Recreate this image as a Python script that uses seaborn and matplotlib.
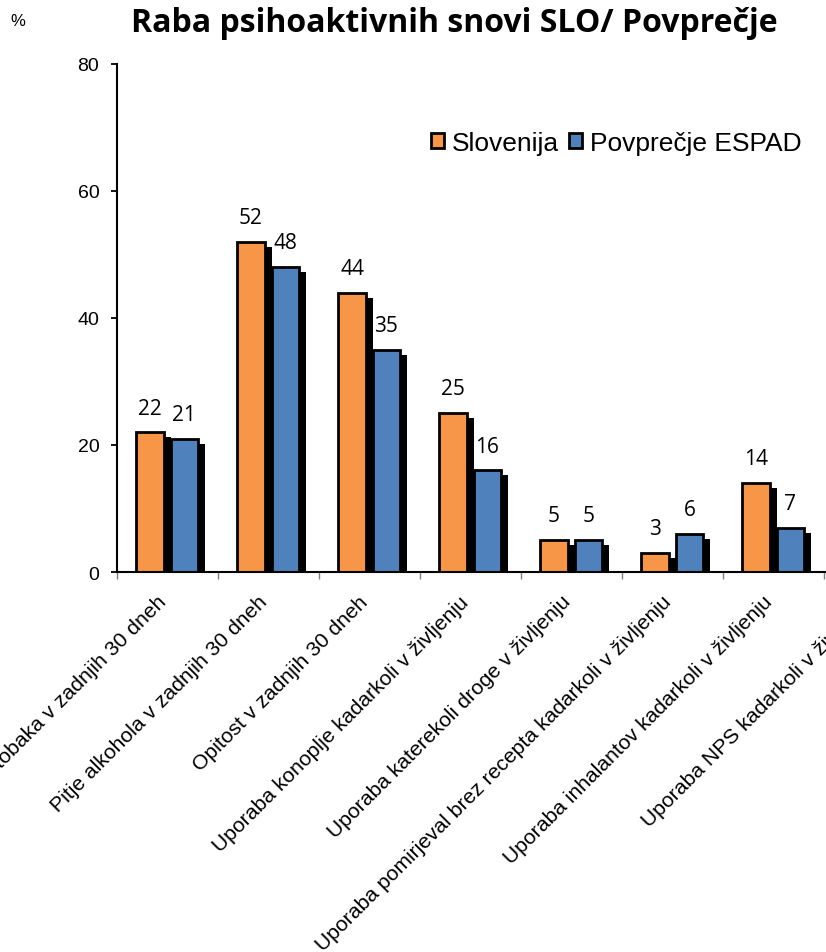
import matplotlib
matplotlib.use("Agg")
import matplotlib.pyplot as plt
import matplotlib.patheffects as pe
import matplotlib.transforms as mtransforms
from matplotlib.patches import Patch
from matplotlib.ticker import FixedLocator
import seaborn as sns
import pandas as pd

# --- data ---
kategorije = [
    "Kajenje tobaka v zadnjih 30 dneh",
    "Pitje alkohola v zadnjih 30 dneh",
    "Opitost v zadnjih 30 dneh",
    "Uporaba konoplje kadarkoli v življenju",
    "Uporaba katerekoli droge v življenju",
    "Uporaba pomirjeval brez recepta kadarkoli v življenju",
    "Uporaba inhalantov kadarkoli v življenju",
    "Uporaba NPS kadarkoli v življenju",
]
slovenija = [22, 52, 44, 25, 5, 3, 14, 4]
povprecje_espad = [21, 48, 35, 16, 5, 6, 7, 3]
serije = ["Slovenija", "Povprečje ESPAD"]
barve = ["#F79646", "#4F81BD"]

df = pd.DataFrame({
    "kategorija": kategorije * 2,
    "serija": [serije[0]] * len(kategorije) + [serije[1]] * len(kategorije),
    "vrednost": slovenija + povprecje_espad,
})

sns.set_theme(style="white")
plt.rcParams["font.family"] = ["Liberation Sans", "DejaVu Sans"]
plt.rcParams.update({"text.color": "black", "axes.labelcolor": "black",
                     "xtick.color": "black", "ytick.color": "black"})

W, H = 826, 953
fig = plt.figure(figsize=(W / 100, H / 100), dpi=100)

# axes extends past the right edge of the figure
left, right, bottom_px, top_px = 116.7, 924.7, 573, 65
ax = fig.add_axes([left / W, (H - bottom_px) / H, (right - left) / W, (bottom_px - top_px) / H])

sns.barplot(data=df, x="kategorija", y="vrednost", hue="serija", palette=barve,
            width=0.68, gap=0.2, edgecolor="black", linewidth=2, ax=ax,
            legend=False, saturation=1)

shadow = [pe.SimplePatchShadow(offset=(5, -3.6), shadow_rgbFace="black", alpha=1.0),
          pe.Normal()]
for cont in ax.containers:
    for bar in cont:
        bar.set_path_effects(shadow)
        h = bar.get_height()
        ax.annotate(f"{h:.0f}", (bar.get_x() + bar.get_width() / 2, h),
                    xytext=(0, 13.5), textcoords="offset points",
                    ha="center", va="baseline", fontsize=15,
                    family=["Open Sans", "DejaVu Sans"], color="black")

ax.set_ylim(0, 80)
ax.set_xlim(-0.5, len(kategorije) - 0.5)
ax.set_yticks([0, 20, 40, 60, 80])
ax.set_xlabel("")
ax.set_ylabel("")
for s in ["top", "right"]:
    ax.spines[s].set_visible(False)
for s in ["left", "bottom"]:
    ax.spines[s].set_color("black")
    ax.spines[s].set_linewidth(1.5)

ax.tick_params(axis="y", which="major", left=True, length=4.5, width=1.3,
               color="black", labelsize=14, pad=8)
ax.tick_params(axis="x", which="major", length=0, pad=19)
ax.xaxis.set_minor_locator(FixedLocator([i - 0.5 for i in range(len(kategorije) + 1)]))
ax.tick_params(axis="x", which="minor", bottom=True, length=5, width=1, color="#808080")

ax.set_xticks(range(len(kategorije)))
ax.set_xticklabels(kategorije, rotation=45, ha="right", va="center",
                   rotation_mode="anchor", fontsize=15.2)
shift = mtransforms.ScaledTranslation(-4 / 100, 0, fig.dpi_scale_trans)
for lbl in ax.get_xticklabels():
    lbl.set_transform(lbl.get_transform() + shift)

handles = [Patch(facecolor=c, edgecolor="black", linewidth=2) for c in barve]
fig.legend(handles, serije, loc="center left", bbox_to_anchor=(431 / W, 1 - 144 / H),
           ncol=2, frameon=False, fontsize=19, handlelength=0.5, handleheight=0.5,
           handletextpad=0.28, columnspacing=0.4, borderpad=0, borderaxespad=0)

fig.text(454 / W, 1 - 32 / H, "Raba psihoaktivnih snovi SLO/ Povprečje",
         ha="center", va="baseline", fontsize=23, fontweight="bold",
         family=["Open Sans", "DejaVu Sans"])
fig.text(18 / W, 1 - 22 / H, "%", ha="center", va="center", fontsize=12)

fig.savefig("out.png", dpi=100)
